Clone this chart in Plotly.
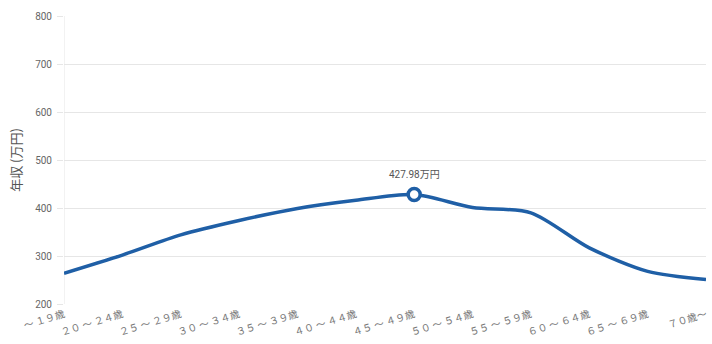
import plotly.graph_objects as go

categories = ["～ １９歳", "２０ ～ ２４歳", "２５ ～ ２９歳", "３０ ～ ３４歳", "３５ ～ ３９歳", "４０ ～ ４４歳",
              "４５ ～ ４９歳", "５０ ～ ５４歳", "５５ ～ ５９歳", "６０ ～ ６４歳", "６５ ～ ６９歳", "７０歳～"]
income = [264, 302, 344, 374, 399, 416, 427.98, 401, 390, 317, 268, 251]
peak_index = 6
peak_label = "427.98万円"

line_color = "#1f5fa6"
font_family = "Noto Sans CJK JP, Noto Sans, sans-serif"

fig = go.Figure()
fig.add_trace(go.Scatter(
    x=list(range(len(categories))), y=income, mode="lines",
    line=dict(color=line_color, width=3.5, shape="spline", smoothing=0.8),
    hoverinfo="skip", showlegend=False,
))
fig.add_trace(go.Scatter(
    x=[peak_index], y=[income[peak_index]], mode="markers",
    marker=dict(size=12, color="white", line=dict(color=line_color, width=3.5)),
    showlegend=False,
))
fig.add_annotation(x=peak_index, y=income[peak_index], text=peak_label, showarrow=False,
                   yshift=20, font=dict(size=10, color="#555", family="Roboto, Noto Sans CJK JP"))

fig.update_layout(
    width=712, height=344,
    margin=dict(l=64, r=4, t=16, b=40),
    paper_bgcolor="white", plot_bgcolor="white",
    font=dict(family=font_family, color="#666", size=10),
)
fig.update_xaxes(
    tickmode="array", tickvals=list(range(len(categories))), ticktext=categories,
    range=[0, len(categories) - 1], tickangle=-17, showgrid=False, zeroline=False,
    showline=False, ticks="", ticklabelstandoff=2,
    tickfont=dict(size=10, color="#777", family="Noto Sans CJK JP"),
)
fig.update_yaxes(
    range=[200, 800], dtick=100, showgrid=True, gridcolor="#e6e6e6", gridwidth=1,
    zeroline=False, showline=False, ticks="outside", ticklen=6, tickcolor="#e6e6e6",
    ticklabelstandoff=3,
    tickfont=dict(size=10, color="#666", family="Roboto, Noto Sans"),
    title=dict(text="年収 (万円)", font=dict(size=13, color="#555"), standoff=10),
)
fig.add_shape(type="line", xref="x", yref="paper", x0=0, x1=0, y0=0, y1=1,
              line=dict(color="#e6e6e6", width=1), layer="below")

fig.write_html("out.html")
